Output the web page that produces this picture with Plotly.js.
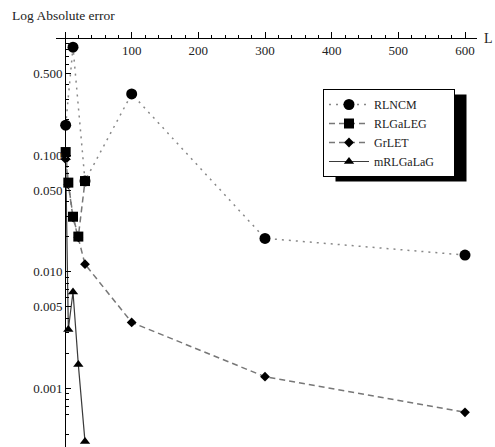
<!DOCTYPE html>
<html>
<head>
<meta charset="utf-8">
<script src="https://cdn.plot.ly/plotly-3.0.1.min.js"></script>
<style>
  html, body { margin: 0; padding: 0; background: #fff; }
  #chart { width: 495px; height: 447px; }
</style>
</head>
<body>
<div id="chart"></div>
<script>
// Number of nodes L shared by all methods
const L = [1, 5, 12, 20, 30, 100, 300, 600];

// Absolute errors per method (null where a method has no value)
const RLNCM    = [0.180, null, 0.840, null, 0.0600, 0.334, 0.0193, 0.0139];
const RLGaLEG  = [0.106, 0.0580, 0.0296, 0.0200, 0.0598, null, null, null];
const GrLET    = [0.092, 0.0560, 0.0292, 0.0197, 0.0116, 0.00368, 0.00126, 0.000624];
const mRLGaLaG = [0.095, 0.00320, 0.00670, 0.00160, 0.00035, null, null, null];

// Axis ticks
const xTicks = [100, 200, 300, 400, 500, 600];
const yTicks = [0.001, 0.005, 0.01, 0.05, 0.1, 0.5];
const yTickText = ["0.001", "0.005", "0.010", "0.050", "0.100", "0.500"];

const serif = "Liberation Serif";
const pad = "\u00a0\u00a0\u00a0\u00a0\u00a0";   // right padding inside the legend box

// minor log ticks: 2..9 in every decade except the labelled 5s
const yMinor = [];
for (let e = -4; e <= 0; e++) {
  for (let m = 2; m <= 9; m++) {
    if (m !== 5) yMinor.push(m * Math.pow(10, e));
  }
}

function series(name, y, symbol, size, dash, lineColor, width, rank) {
  return {
    type: "scatter", mode: "lines+markers", name: name + pad,
    x: L, y: y, connectgaps: true, legendrank: rank,
    line: { color: lineColor, width: width, dash: dash },
    marker: { symbol: symbol, size: size, color: "#000" }
  };
}

// drawing order keeps squares above the diamonds that share their positions
const traces = [
  series("mRLGaLaG", mRLGaLaG, "triangle-up", 9, "solid", "#3a3a3a", 1.2, 4),
  series("GrLET", GrLET, "diamond", 7.5, "6px,4px", "#777", 1.5, 3),
  series("RLGaLEG", RLGaLEG, "square", 10, "6px,4px", "#777", 1.5, 2),
  series("RLNCM", RLNCM, "circle", 11, "2px,5px", "#888", 1.5, 1)
];

const W = 495, H = 447, ml = 56, mr = 18, mt = 32, mb = 0;
const xRange = [-13.5, 618];
const yRange = [-3.502, 0.054];
const pw = W - ml - mr, ph = H - mt - mb;
const px2paperX = p => (p - ml) / pw;
const px2paperY = p => (H - mb - p) / ph;

const layout = {
  width: W, height: H,
  margin: { l: ml, r: mr, t: mt, b: mb, pad: 0 },
  paper_bgcolor: "#fff", plot_bgcolor: "#fff",
  showlegend: true,
  title: {
    text: "Log Absolute error",
    x: 12 / W, xanchor: "left", xref: "container",
    y: 1 - 15 / H, yanchor: "middle", yref: "container",
    font: { family: serif, size: 13.5, color: "#222" }
  },
  xaxis: {
    range: xRange, anchor: "free",
    position: (0 - yRange[0]) / (yRange[1] - yRange[0]),
    side: "bottom", showline: true, linecolor: "#000", linewidth: 1,
    showgrid: false, zeroline: false,
    tickmode: "array", tickvals: xTicks,
    ticks: "inside", ticklen: 6, tickwidth: 1, tickcolor: "#000",
    minor: { tickmode: "linear", tick0: 0, dtick: 20, ticks: "inside", ticklen: 3.5, tickcolor: "#000", showgrid: false },
    tickfont: { family: serif, size: 13, color: "#222" }
  },
  yaxis: {
    type: "log", range: yRange, anchor: "free",
    position: (0 - xRange[0]) / (xRange[1] - xRange[0]),
    side: "left", showline: true, linecolor: "#000", linewidth: 1,
    showgrid: false, zeroline: false,
    tickmode: "array", tickvals: yTicks, ticktext: yTickText,
    ticks: "inside", ticklen: 5, tickwidth: 1, tickcolor: "#000",
    minor: { tickmode: "array", tickvals: yMinor, ticks: "inside", ticklen: 3, tickcolor: "#000", showgrid: false },
    tickfont: { family: serif, size: 13, color: "#222" }
  },
  legend: {
    x: px2paperX(323), y: px2paperY(89), xanchor: "left", yanchor: "top",
    bgcolor: "#fff", bordercolor: "#000", borderwidth: 1,
    font: { family: serif, size: 12, color: "#222" },
    itemwidth: 40, tracegroupgap: 0
  },
  annotations: [{
    text: "L", xref: "paper", yref: "paper",
    x: px2paperX(488.5), y: px2paperY(39), xanchor: "center", yanchor: "middle",
    showarrow: false, font: { family: serif, size: 14, color: "#222" }
  }],
  shapes: []
};

Plotly.newPlot("chart", traces, layout, { displayModeBar: false, staticPlot: true }).then(gd => {
  // drop shadow placed from the rendered legend box
  const bg = gd.querySelector(".legend .bg");
  if (!bg) return;
  const r = bg.getBoundingClientRect();
  const host = gd.getBoundingClientRect();
  const left = r.left - host.left, right = r.right - host.left;
  const top = r.top - host.top, bottom = r.bottom - host.top;
  return Plotly.relayout(gd, {
    shapes: [{
      type: "rect", xref: "paper", yref: "paper", layer: "above",
      x0: px2paperX(left + 12), x1: px2paperX(right + 12),
      y0: px2paperY(bottom + 5), y1: px2paperY(top + 5),
      fillcolor: "#000", line: { width: 0 }
    }]
  });
});
</script>
</body>
</html>
